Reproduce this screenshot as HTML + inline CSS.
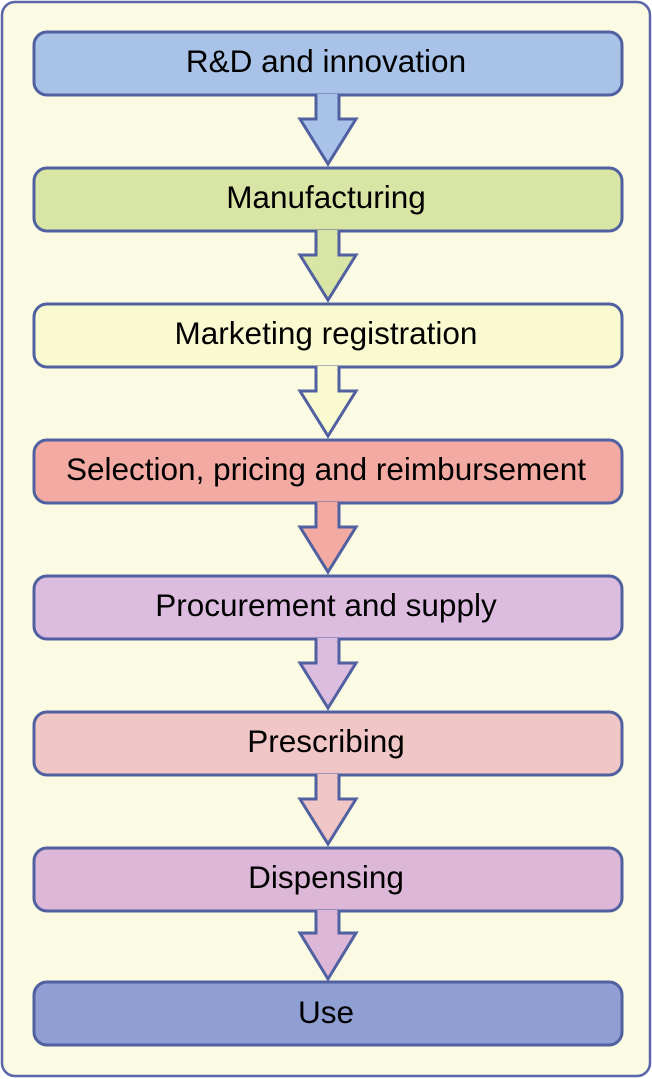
<!DOCTYPE html>
<html><head><style>body{margin:0;background:#fff}svg{display:block}</style></head><body>
<svg width="652" height="1079" viewBox="0 0 652 1079" xmlns="http://www.w3.org/2000/svg" font-family="Liberation Sans, Arial, sans-serif">
<rect x="2" y="2" width="648" height="1074" rx="13" fill="#fbfbe4" stroke="#5a66a8" stroke-width="2.5"/>
<g stroke="#5060a0" stroke-width="3" stroke-linejoin="miter">
<rect x="34" y="32" width="588" height="63" rx="13" fill="#a9c3e8"/>
<rect x="34" y="168" width="588" height="63" rx="13" fill="#d8e5a4"/>
<rect x="34" y="304" width="588" height="63" rx="13" fill="#fafad0"/>
<rect x="34" y="440" width="588" height="63" rx="13" fill="#f3aaa2"/>
<rect x="34" y="576" width="588" height="63" rx="13" fill="#dcbde0"/>
<rect x="34" y="712" width="588" height="63" rx="13" fill="#f1c6c6"/>
<rect x="34" y="848" width="588" height="63" rx="13" fill="#ddb7d7"/>
<rect x="34" y="982" width="588" height="63" rx="13" fill="#8f9fd3"/>
<path d="M316 94 V119 H300 L328 164 L356 119 H339 V94" fill="#a9c3e8"/>
<path d="M316 230 V255 H300 L328 300 L356 255 H339 V230" fill="#d8e5a4"/>
<path d="M316 366 V391 H300 L328 436 L356 391 H339 V366" fill="#fafad0"/>
<path d="M316 502 V527 H300 L328 572 L356 527 H339 V502" fill="#f3aaa2"/>
<path d="M316 638 V663 H300 L328 708 L356 663 H339 V638" fill="#dcbde0"/>
<path d="M316 774 V799 H300 L328 844 L356 799 H339 V774" fill="#f1c6c6"/>
<path d="M316 910 V933 H300 L328 979 L356 933 H339 V910" fill="#ddb7d7"/>
</g>
<g font-size="31.5" text-anchor="middle" fill="#000">
<text x="326" y="72">R&amp;D and innovation</text>
<text x="326" y="208">Manufacturing</text>
<text x="326" y="344">Marketing registration</text>
<text x="326" y="480">Selection, pricing and reimbursement</text>
<text x="326" y="616">Procurement and supply</text>
<text x="326" y="752">Prescribing</text>
<text x="326" y="888">Dispensing</text>
<text x="326" y="1023">Use</text>
</g>
</svg>
</body></html>
